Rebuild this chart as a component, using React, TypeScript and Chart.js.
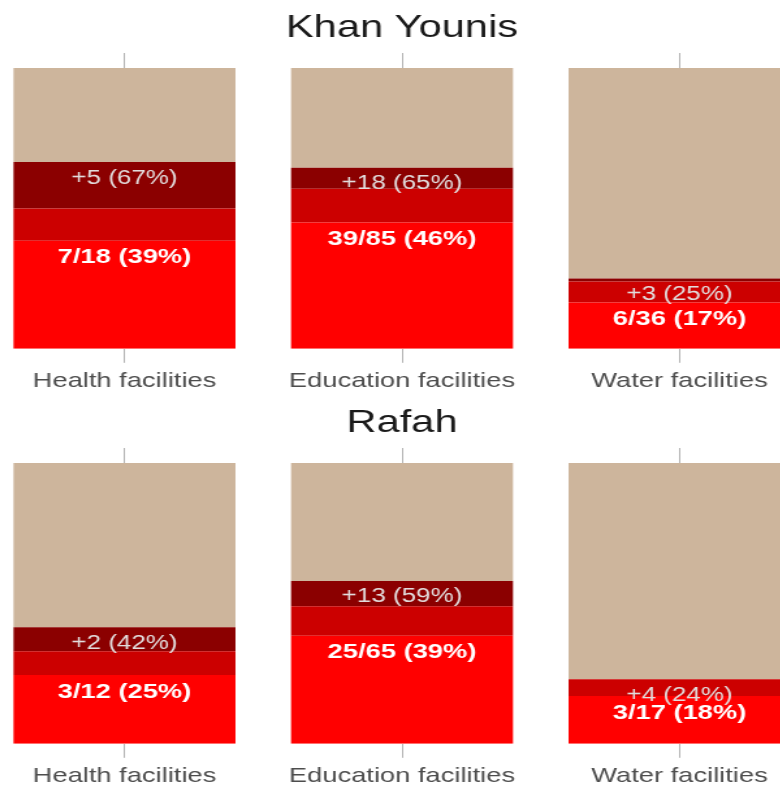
import React, { useEffect, useRef } from 'react';
import { Chart, registerables } from 'chart.js';

Chart.register(...registerables);

// ---------- data ----------
const facilities = ['Health facilities', 'Education facilities', 'Water facilities'];

const khanYounisDamaged = [38.5, 45, 16.5];
const khanYounisBand = [11.5, 12, 7.5];
const khanYounisAdded = [16.5, 7.5, 1];
const khanYounisIntact = [33.5, 35.5, 75];
const khanYounisDamagedLabels = ['7/18 (39%)', '39/85 (46%)', '6/36 (17%)'];
const khanYounisAddedLabels = ['+5 (67%)', '+18 (65%)', '+3 (25%)'];

const rafahDamaged = [24.5, 38.5, 17];
const rafahBand = [8.5, 10.5, 6];
const rafahAdded = [8.5, 9, 0];
const rafahIntact = [58.5, 42, 77];
const rafahDamagedLabels = ['3/12 (25%)', '25/65 (39%)', '3/17 (18%)'];
const rafahAddedLabels = ['+2 (42%)', '+13 (59%)', '+4 (24%)'];

// ---------- style ----------
const FONT = "'Liberation Sans', Arial, Helvetica, sans-serif";
const COLORS = ['#ff0000', '#cc0000', '#8b0000', '#cdb59c'];
const CANVAS_W = 640;
const CANVAS_H = 402;
const SCREEN_W = 832.5;
const OFFSET_X = -14.25;
const SCALE_X = SCREEN_W / CANVAS_W;

type RowProps = {
  title: string;
  damaged: number[];
  band: number[];
  added: number[];
  intact: number[];
  damagedLabels: string[];
  addedLabels: string[];
  top: number;
};

function Row({ title, damaged, band, added, intact, damagedLabels, addedLabels, top }: RowProps) {
  const ref = useRef<HTMLCanvasElement | null>(null);

  useEffect(() => {
    if (!ref.current) return;
    const labelPlugin = {
      id: 'barLabels',
      afterDatasetsDraw(chart: any) {
        const { ctx } = chart;
        const y = chart.scales.y;
        const meta = chart.getDatasetMeta(0);
        ctx.save();
        ctx.textAlign = 'center';
        ctx.textBaseline = 'middle';
        meta.data.forEach((bar: any, i: number) => {
          const x = bar.x;
          const topAdded = y.getPixelForValue(damaged[i] + band[i] + added[i]);
          ctx.font = `normal 20px ${FONT}`;
          ctx.fillStyle = '#e2dcdc';
          ctx.fillText(addedLabels[i], x, topAdded + 16);
          const topDamaged = y.getPixelForValue(damaged[i]);
          ctx.font = `bold 21px ${FONT}`;
          ctx.fillStyle = '#ffffff';
          ctx.fillText(damagedLabels[i], x, topDamaged + 17);
        });
        ctx.restore();
      },
    };

    const chart = new Chart(ref.current, {
      type: 'bar',
      data: {
        labels: facilities,
        datasets: [
          { label: 'Damaged', data: damaged, backgroundColor: COLORS[0] },
          { label: 'Band', data: band, backgroundColor: COLORS[1] },
          { label: 'Added', data: added, backgroundColor: COLORS[2] },
          { label: 'Intact', data: intact, backgroundColor: COLORS[3] },
        ],
      },
      options: {
        responsive: false,
        animation: false,
        devicePixelRatio: 1,
        layout: { padding: { left: 0, right: 0, top: 0, bottom: 2 } },
        datasets: {
          bar: { barPercentage: 1, categoryPercentage: 0.8, borderWidth: 0, inflateAmount: 0 },
        },
        scales: {
          x: {
            stacked: true,
            offset: true,
            border: { display: false },
            grid: {
              offset: false,
              drawOnChartArea: false,
              drawTicks: true,
              tickLength: 14,
              color: '#b3b3b3',
              lineWidth: 1,
            },
            ticks: {
              autoSkip: false,
              maxRotation: 0,
              minRotation: 0,
              padding: 6,
              color: '#4d4d4d',
              font: { family: FONT, size: 21 },
            },
          },
          x2: {
            type: 'category',
            position: 'top',
            offset: true,
            border: { display: false },
            grid: {
              offset: false,
              drawOnChartArea: false,
              drawTicks: true,
              tickLength: 15,
              color: '#b3b3b3',
              lineWidth: 1,
            },
            ticks: { display: false },
          },
          y: {
            stacked: true,
            display: false,
            min: 0,
            max: 100,
          },
        },
        plugins: {
          legend: { display: false },
          tooltip: { enabled: false },
          title: {
            display: true,
            text: title,
            color: '#1a1a1a',
            font: { family: FONT, size: 32, weight: 'normal' },
            padding: { top: 8.5, bottom: 6.1 },
          },
        },
      },
      plugins: [labelPlugin],
    } as any);
    return () => chart.destroy();
  }, []);

  return (
    <canvas
      ref={ref}
      width={CANVAS_W}
      height={CANVAS_H}
      style={{
        position: 'absolute',
        left: 0,
        top,
        transformOrigin: '0 0',
        transform: `translateX(${OFFSET_X}px) scaleX(${SCALE_X})`,
      }}
    />
  );
}

export default function App() {
  return (
    <div
      style={{
        position: 'fixed',
        left: 0,
        top: 0,
        width: 780,
        height: 785,
        overflow: 'hidden',
        background: '#ffffff',
      }}
    >
      <Row
        title="Khan Younis"
        damaged={khanYounisDamaged}
        band={khanYounisBand}
        added={khanYounisAdded}
        intact={khanYounisIntact}
        damagedLabels={khanYounisDamagedLabels}
        addedLabels={khanYounisAddedLabels}
        top={0}
      />
      <Row
        title="Rafah"
        damaged={rafahDamaged}
        band={rafahBand}
        added={rafahAdded}
        intact={rafahIntact}
        damagedLabels={rafahDamagedLabels}
        addedLabels={rafahAddedLabels}
        top={395}
      />
    </div>
  );
}
